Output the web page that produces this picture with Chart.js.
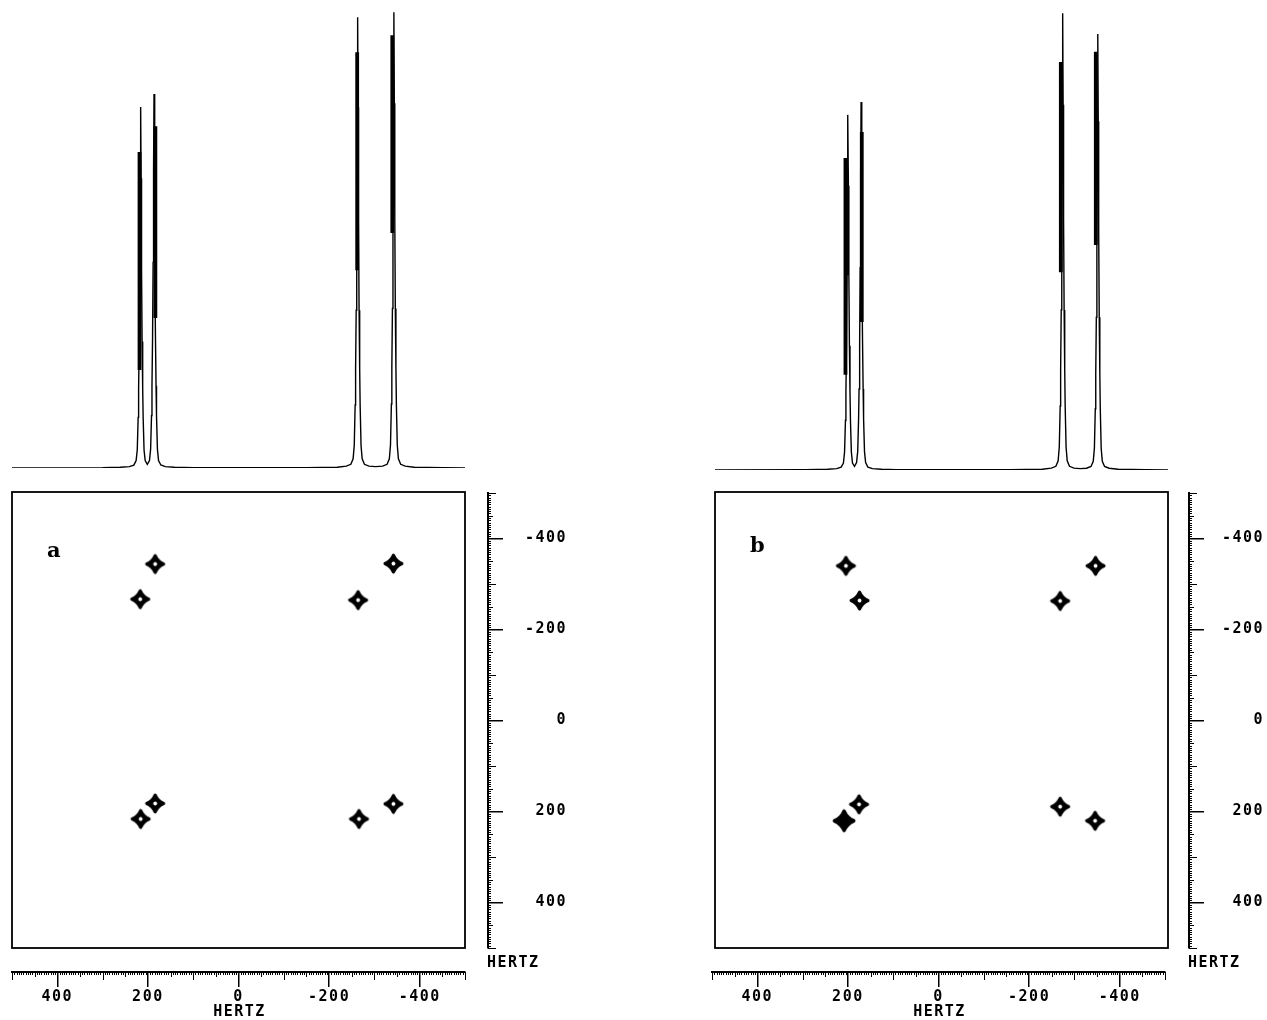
<!DOCTYPE html>
<html><head><meta charset="utf-8">
<script src="https://cdn.jsdelivr.net/npm/chart.js@4.4.1/dist/chart.umd.min.js"></script>
<style>
html,body{margin:0;padding:0;background:#fff;}
body{width:1267px;height:1020px;position:relative;overflow:hidden;}
canvas{position:absolute;}
</style></head><body>
<script>
// ---------- DATA ----------
const xTickValues = [400, 200, 0, -200, -400];
const yTickValues = [-400, -200, 0, 200, 400];

// 1D spectrum (a): [Hz, intensity]
const spectrumA = [
 [500,0],[300,0.05],
 [261,0.15],[241,0.3],[231,0.63],[226,1.6],[223.5,3.9],[221.5,11],[220.5,17.3],[219.2,27.5],[218,43],[217,63],[216,78.5],
 [215,63],[214,43],[212.8,27.5],[211.5,17.3],[210.5,11],[208.5,3.9],[206,1.6],
 [201.3,0.8],
 [196.5,1.6],[194,4.1],[192,11.4],[191,17.9],[189.7,28.5],[188.5,44.7],[187.5,65],[186.5,81.3],
 [185.5,65],[184.5,44.7],[183.3,28.5],[182,17.9],[181,11.4],[179,4.1],[176.5,1.6],[171.5,0.65],[161.5,0.3],[141.5,0.15],[100,0.05],
 [-150,0.05],
 [-218,0.15],[-238,0.4],[-248,0.8],[-253,2],[-255.5,4.9],[-257.5,13.7],[-258.5,21.6],[-259.8,34.3],[-261,53.9],[-262,78.4],[-263,98],
 [-264,78.4],[-265,53.9],[-266.2,34.3],[-267.5,21.6],[-268.5,13.7],[-270.5,4.9],[-273,2],[-278,0.8],[-288,0.4],
 [-303,0.3],
 [-318,0.4],[-328,0.8],[-333,2],[-335.5,5],[-337.5,13.9],[-338.5,21.8],[-339.8,34.7],[-341,54.5],[-342,79.3],[-343,99.1],
 [-344,79.3],[-345,54.5],[-346.2,34.7],[-347.5,21.8],[-348.5,13.9],[-350.5,5],[-353,2],[-358,0.8],[-368,0.4],[-388,0.15],[-450,0.05],[-500,0]
];
// heavily inked parts of the (a) peaks
const thickA_hz     = [218.5, 183.5, -262, -339.5];
const thickA_top    = [68.7, 74.3, 90.4, 94.1];
const thickA_bottom = [21.3, 32.6, 43, 51.1];

// 1D spectrum (b)
const spectrumB = [
 [500,0],[300,0.05],
 [251.5,0.15],[231.5,0.3],[221.5,0.62],[216.5,1.5],[214,3.9],[212,10.8],[211,17],[209.7,27],[208.5,42.5],[207.5,61.8],[206.5,77.2],
 [205.5,61.8],[204.5,42.5],[203.3,27],[202,17],[201,10.8],[199,3.9],[196.5,1.5],
 [192,0.8],
 [187.5,1.6],[185,4],[183,11.2],[182,17.6],[180.7,28],[179.5,44],[178.5,64],[177.5,80],
 [176.5,64],[175.5,44],[174.3,28],[173,17.6],[172,11.2],[170,4],[167.5,1.6],[162.5,0.64],[152.5,0.3],[132.5,0.15],[100,0.05],
 [-150,0.05],
 [-222.5,0.15],[-242.5,0.4],[-252.5,0.8],[-257.5,2],[-260,5],[-262,13.9],[-263,21.8],[-264.3,34.8],[-265.5,54.6],[-266.5,79.4],[-267.5,99.3],
 [-268.5,79.4],[-269.5,54.6],[-270.7,34.8],[-272,21.8],[-273,13.9],[-275,5],[-277.5,2],[-282.5,0.8],[-292.5,0.4],
 [-306,0.3],
 [-320,0.38],[-330,0.76],[-335,1.9],[-337.5,4.7],[-339.5,13.3],[-340.5,20.9],[-341.8,33.2],[-343,52.1],[-344,75.8],[-345,94.8],
 [-346,75.8],[-347,52.1],[-348.2,33.2],[-349.5,20.9],[-350.5,13.3],[-352.5,4.7],[-355,1.9],[-360,0.76],[-370,0.38],[-390,0.15],[-450,0.05],[-500,0]
];
const thickB_hz     = [212, 176, -263.4, -340.6];
const thickB_top    = [67.8, 73.5, 88.7, 90.9];
const thickB_bottom = [20.7, 32.2, 43, 48.9];

// 2D cross peaks (Hz, Hz)
const crossA_x = [184, -342, 217, -264, 184, -342, 216, -266];
const crossA_y = [-342, -343, -265, -263, 183, 184, 217, 217];
const crossB_x = [211, -340, 181, -262, 182, -262, 215, -339];
const crossB_y = [-338, -338, -262, -261, 185, 190, 221, 221];
// marker style (filled centre) per point
const filledA = [0,0,0,0,0,0,0,0];
const filledB = [0,0,0,0,0,0,1,0];

// ---------- HELPERS ----------
const TICK_FONT = {family:"'DejaVu Sans Mono', monospace", size:15, weight:'bold'};
const TICK_FONT_CSS = "bold 15px 'DejaVu Sans Mono', monospace";

function makeCanvas(left, top, w, h){
  const c = document.createElement('canvas');
  c.width = w; c.height = h;
  c.style.left = left + 'px'; c.style.top = top + 'px';
  c.style.width = w + 'px'; c.style.height = h + 'px';
  document.body.appendChild(c);
  return c;
}
function makeStar(r, hole, lw){
  const s = Math.ceil(r*2 + 8);
  const c = document.createElement('canvas');
  c.width = s; c.height = s;
  const g = c.getContext('2d');
  g.translate(s/2, s/2);
  const k = r*0.3;
  g.beginPath();
  g.moveTo(0,-r);
  g.quadraticCurveTo(k,-k, r,0);
  g.quadraticCurveTo(k,k, 0,r);
  g.quadraticCurveTo(-k,k, -r,0);
  g.quadraticCurveTo(-k,-k, 0,-r);
  g.closePath();
  g.fillStyle = '#000'; g.fill();
  g.lineWidth = lw; g.lineJoin = 'round'; g.strokeStyle = '#000'; g.stroke();
  if (hole){
    g.beginPath(); g.arc(0,0,1.9,0,Math.PI*2); g.fillStyle = '#fff'; g.fill();
  }
  return c;
}
const starHole = makeStar(8.4, true, 3.2);
const starSolid = makeStar(9.6, false, 3.6);

const baseOpts = () => ({
  responsive:false, animation:false, events:[],
  plugins:{legend:{display:false}, tooltip:{enabled:false}}
});

const spacingPlugin = {
  id:'spacing',
  beforeDraw(chart){ chart.ctx.letterSpacing = '1.5px'; }
};

function minorTicksPlugin(axisId, horizontal){
  return {
    id:'minor_' + axisId,
    afterDraw(chart){
      const s = chart.scales[axisId];
      const ctx = chart.ctx;
      ctx.save();
      ctx.strokeStyle = '#000';
      ctx.lineWidth = 1;
      ctx.beginPath();
      for (let v = -500; v <= 500; v += 5){
        if (v % 200 === 0) continue;
        const len = (v % 100 === 0) ? 8 : (v % 50 === 0 ? 5 : 3);
        const p = Math.round(s.getPixelForValue(v)) + 0.5;
        if (horizontal){ ctx.moveTo(p, s.top); ctx.lineTo(p, s.top + len); }
        else { ctx.moveTo(s.left, p); ctx.lineTo(s.left + len, p); }
      }
      ctx.stroke();
      ctx.restore();
    }
  };
}

function buildPanel(P){
  // --- spectrum ---
  const thickData = [];
  P.thickHz.forEach((h,i) => {
    thickData.push({x:h, y:P.thickTop[i]}, {x:h, y:P.thickBottom[i]}, {x:h, y:null});
  });
  new Chart(makeCanvas(P.specLeft, 0, 480, 476), {
    type:'line',
    data:{datasets:[
      {data:P.spectrum.map(p => ({x:p[0], y:p[1]})), borderColor:'#000', borderWidth:1.4, pointRadius:0, tension:0, fill:false},
      {data:thickData, borderColor:'#000', borderWidth:3.8, borderCapStyle:'butt', pointRadius:0, spanGaps:false, fill:false}
    ]},
    options:Object.assign(baseOpts(), {
      layout:{padding:{left:12, right:15, top:P.specTop, bottom:476 - P.specBase}},
      scales:{
        x:{type:'linear', min:-500, max:500, reverse:true, display:false},
        y:{type:'linear', min:0, max:100, display:false}
      }
    })
  });

  // --- 2D plot ---
  const labelPlugin = {
    id:'frameLabel',
    afterDraw(chart){
      const a = chart.chartArea, ctx = chart.ctx;
      ctx.save();
      ctx.strokeStyle = '#000'; ctx.lineWidth = 1.8;
      ctx.strokeRect(a.left, a.top, a.right - a.left, a.bottom - a.top);
      ctx.fillStyle = '#000';
      ctx.font = "bold 21px 'DejaVu Serif', serif";
      ctx.textAlign = 'left'; ctx.textBaseline = 'alphabetic';
      ctx.fillText(P.letter, a.left + P.letterDx, a.top + P.letterDy);
      ctx.restore();
    }
  };
  new Chart(makeCanvas(P.specLeft, 480, 480, 480), {
    type:'scatter',
    data:{datasets:[{
      data:P.cx.map((x,i) => ({x, y:P.cy[i]})),
      pointStyle:ctx => P.filled[ctx.dataIndex] ? starSolid : starHole,
      pointRadius:10
    }]},
    options:Object.assign(baseOpts(), {
      layout:{padding:{left:12, right:15, top:12, bottom:12}},
      scales:{
        x:{type:'linear', min:-500, max:500, reverse:true, display:false},
        y:{type:'linear', min:-500, max:500, reverse:true, display:false}
      }
    }),
    plugins:[labelPlugin]
  });

  // --- bottom axis ---
  const hertzBottom = {
    id:'hertzBottom',
    afterDraw(chart){
      const s = chart.scales.x, ctx = chart.ctx;
      ctx.save();
      ctx.fillStyle = '#000'; ctx.font = TICK_FONT_CSS;
      ctx.textAlign = 'center'; ctx.textBaseline = 'middle';
      ctx.fillText('HERTZ', s.getPixelForValue(0) + 1, 57);
      ctx.restore();
    }
  };
  new Chart(makeCanvas(P.axisLeft, 955, 480, 65), {
    type:'scatter',
    data:{datasets:[]},
    options:Object.assign(baseOpts(), {
      layout:{padding:{left:12, right:15, top:0, bottom:0}},
      scales:{
        x:{type:'linear', position:'bottom', min:-500, max:500, reverse:true,
          afterBuildTicks:s => { s.ticks = xTickValues.map(v => ({value:v})); },
          afterFit:s => { s.height = 48; },
          grid:{drawOnChartArea:false, drawTicks:true, tickLength:15, color:'#000', lineWidth:1.5},
          border:{display:true, color:'#000', width:2},
          ticks:{font:TICK_FONT, color:'#000', padding:1, maxRotation:0, autoSkip:false, callback:v => String(v)}
        },
        y:{type:'linear', display:false, min:0, max:1}
      }
    }),
    plugins:[spacingPlugin, minorTicksPlugin('x', true), hertzBottom]
  });

  // --- right axis ---
  const hertzRight = {
    id:'hertzRight',
    afterDraw(chart){
      const s = chart.scales.y, ctx = chart.ctx;
      ctx.save();
      ctx.fillStyle = '#000'; ctx.font = TICK_FONT_CSS;
      ctx.textAlign = 'left'; ctx.textBaseline = 'middle';
      ctx.fillText('HERTZ', s.left - 1, 483);
      ctx.restore();
    }
  };
  const vw = P.vWidth;
  new Chart(makeCanvas(P.vLeft, 480, vw, 490), {
    type:'scatter',
    data:{datasets:[]},
    options:Object.assign(baseOpts(), {
      layout:{padding:{left:0, right:3, top:12, bottom:22}},
      scales:{
        x:{type:'linear', display:false, min:0, max:1},
        y:{type:'linear', position:'right', min:-500, max:500, reverse:true,
          afterBuildTicks:s => { s.ticks = yTickValues.map(v => ({value:v})); },
          afterFit:s => { s.width = vw - 3 - 8; },
          grid:{drawOnChartArea:false, drawTicks:true, tickLength:15, color:'#000', lineWidth:1.5},
          border:{display:true, color:'#000', width:2},
          ticks:{font:TICK_FONT, color:'#000', crossAlign:'far', padding:4, autoSkip:false, callback:v => String(v)}
        }
      }
    }),
    plugins:[spacingPlugin, minorTicksPlugin('y', false), hertzRight]
  });
}

buildPanel({
  letter:'a', letterDx:35, letterDy:65,
  specLeft:0, specTop:8, specBase:468,
  spectrum:spectrumA, thickHz:thickA_hz, thickTop:thickA_top, thickBottom:thickA_bottom,
  cx:crossA_x, cy:crossA_y, filled:filledA,
  axisLeft:0, vLeft:480, vWidth:90
});
buildPanel({
  letter:'b', letterDx:35, letterDy:60,
  specLeft:703, specTop:10, specBase:470,
  spectrum:spectrumB, thickHz:thickB_hz, thickTop:thickB_top, thickBottom:thickB_bottom,
  cx:crossB_x, cy:crossB_y, filled:filledB,
  axisLeft:700, vLeft:1181, vWidth:86
});
</script>
</body></html>
